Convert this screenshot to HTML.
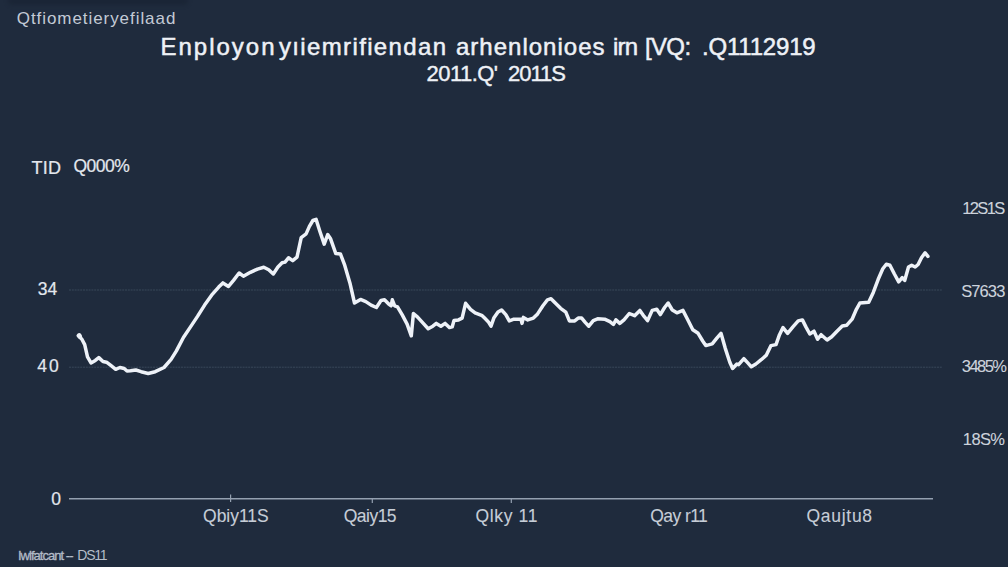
<!DOCTYPE html>
<html><head><meta charset="utf-8">
<style>
html,body{margin:0;padding:0;}
body{width:1008px;height:567px;background:#1f2b3d;overflow:hidden;position:relative;font-family:"Liberation Sans",sans-serif;color:#e8ecf2;}
.t{position:absolute;white-space:pre;line-height:1;}
svg{position:absolute;left:0;top:0;}
</style></head><body>
<svg width="1008" height="567" viewBox="0 0 1008 567">
  <line x1="69" y1="290" x2="942" y2="290" stroke="#445366" stroke-width="0.7" stroke-dasharray="2 0.8"/>
  <line x1="69" y1="367.2" x2="942" y2="367.2" stroke="#445366" stroke-width="0.7" stroke-dasharray="2 0.8"/>
  <line x1="69" y1="498.8" x2="933" y2="498.8" stroke="#94a0b0" stroke-width="1.6"/>
  <g stroke="#94a0b0" stroke-width="1.2">
    <line x1="230.6" y1="494.5" x2="230.6" y2="502"/>
    <line x1="372.3" y1="498" x2="372.3" y2="503"/>
    <line x1="511.3" y1="498" x2="511.3" y2="503"/>
  </g>
  <ellipse cx="79.6" cy="336" rx="2.3" ry="3" fill="#eef2f8" transform="rotate(-25 79.6 336)"/>
  <polyline fill="none" stroke="#eef2f8" stroke-width="3.5" stroke-linejoin="round" stroke-linecap="round" points="78.3,335.8 81.9,339.3 84.7,344.6 87.5,356.9 91.0,362.9 95.3,360.4 98.8,357.6 103.0,361.5 106.5,362.2 111.1,365.7 115.7,369.3 119.9,367.5 124.2,368.5 127.0,371.0 130.5,370.7 135.8,370.0 141.1,371.7 148.2,373.5 155.2,371.7 164.0,367.5 171.1,359.4 176.4,350.9 183.4,337.5 190.5,326.9 197.5,316.4 204.6,305.1 211.6,295.2 218.7,287.1 222.9,282.9 228.5,286.4 233.5,280.4 239.1,273.0 243.4,276.2 250.4,272.3 257.5,269.1 263.8,267.3 268.7,269.8 273.3,274.0 277.9,267.0 282.1,262.8 285.0,262.1 288.5,257.8 292.7,260.6 297.0,257.1 301.2,237.7 306.1,233.9 309.4,226.4 312.9,220.5 316.1,219.4 320.0,231.7 324.2,244.1 327.7,234.6 330.6,238.8 335.8,253.6 340.4,253.9 344.7,265.2 349.9,282.9 354.5,303.0 360.5,299.4 365.8,301.6 371.1,305.1 376.4,307.5 381.0,300.5 384.5,299.8 388.7,304.0 391.2,305.8 392.3,299.8 394.7,305.8 397.5,306.8 402.1,314.6 407.1,324.1 411.3,335.8 413.4,313.5 417.6,317.1 423.3,323.4 428.2,328.7 432.8,326.2 436.3,323.4 440.9,326.2 445.1,323.4 449.4,327.6 452.2,326.9 454.0,320.6 458.5,319.9 462.1,318.1 465.6,303.3 470.5,309.3 475.1,312.8 482.2,315.7 484.6,318.1 488.2,321.7 491.0,326.2 493.8,318.1 498.0,312.1 501.6,310.0 505.8,314.6 509.3,320.9 513.9,319.2 521.0,319.2 522.0,323.4 523.4,317.4 527.8,319.9 533.4,318.1 537.6,313.9 542.9,305.8 547.5,299.8 551.0,298.7 555.3,303.0 560.6,308.3 565.8,312.1 569.4,320.9 574.7,320.9 578.2,318.1 581.7,318.1 585.2,322.4 588.8,326.2 593.3,320.6 597.6,318.8 604.6,319.2 609.9,321.7 613.4,324.5 615.9,319.9 619.8,323.4 624.0,319.9 629.3,313.5 634.6,315.7 639.9,310.4 644.1,316.4 647.6,320.6 652.2,310.4 656.8,309.3 660.3,314.6 664.6,307.5 668.1,303.0 672.3,310.0 676.9,312.8 682.9,310.4 687.5,319.2 692.8,329.8 698.1,333.3 702.7,341.0 705.8,345.6 712.2,343.9 716.8,338.2 721.0,333.3 725.2,348.1 729.8,362.2 732.6,368.5 736.9,364.0 738.6,364.7 743.9,358.7 747.8,362.9 751.3,366.8 755.9,364.0 761.2,359.7 766.4,355.1 771.0,345.6 776.0,344.6 779.5,334.7 783.0,327.6 787.6,333.3 792.9,326.9 798.2,320.9 802.4,319.9 805.9,326.9 809.8,334.0 814.0,331.2 817.6,339.3 821.1,334.7 827.1,340.0 831.7,336.8 837.0,331.2 842.3,325.9 846.8,325.2 852.1,319.2 856.4,309.3 859.9,303.0 868.7,302.3 873.3,292.4 878.2,279.3 882.8,268.8 886.3,264.2 889.9,265.2 894.4,274.0 898.7,281.8 902.2,277.6 904.7,280.4 908.5,267.0 911.7,265.2 915.2,267.0 918.1,264.5 921.6,257.5 925.1,252.9 927.9,256.4"/>
</svg>
<div style="position:absolute;left:8px;top:-3px;width:180px;height:8px;background:#172131;filter:blur(2px);opacity:.6;border-radius:4px"></div>
<div class="t" style="left:16.73px;top:10.41px;font-size:17px;letter-spacing:0.939px;color:#c3cad5;">Qtfiometieryefilaad</div>
<div class="t" style="left:160.42px;top:35.08px;font-size:24px;letter-spacing:2.012px;color:#eef1f6;-webkit-text-stroke:0.5px #eef1f6;">Enployon</div>
<div class="t" style="left:278.92px;top:35.08px;font-size:24px;letter-spacing:1.366px;color:#eef1f6;-webkit-text-stroke:0.5px #eef1f6;">yıiemrifiendan</div>
<div class="t" style="left:455.92px;top:35.08px;font-size:24px;letter-spacing:1.020px;color:#eef1f6;-webkit-text-stroke:0.5px #eef1f6;">arhenlonioes</div>
<div class="t" style="left:612.92px;top:35.08px;font-size:24px;letter-spacing:-0.756px;color:#eef1f6;-webkit-text-stroke:0.5px #eef1f6;">irn</div>
<div class="t" style="left:644.92px;top:35.08px;font-size:24px;letter-spacing:-0.619px;color:#eef1f6;-webkit-text-stroke:0.5px #eef1f6;">[VQ:</div>
<div class="t" style="left:701.92px;top:35.08px;font-size:24px;letter-spacing:-0.182px;color:#eef1f6;-webkit-text-stroke:0.5px #eef1f6;">.Q1112919</div>
<div class="t" style="left:426.51px;top:62.78px;font-size:22px;letter-spacing:-0.542px;color:#eef1f6;-webkit-text-stroke:0.4px #eef1f6;">2011.Q'</div>
<div class="t" style="left:508.01px;top:62.78px;font-size:22px;letter-spacing:-1.001px;color:#eef1f6;-webkit-text-stroke:0.4px #eef1f6;">2011S</div>
<div class="t" style="left:31.39px;top:158.96px;font-size:18px;letter-spacing:0.360px;color:#e3e7ee;-webkit-text-stroke:0.2px #e3e7ee;">TID</div>
<div class="t" style="left:73.41px;top:157.59px;font-size:17.5px;letter-spacing:-0.500px;color:#e3e7ee;-webkit-text-stroke:0.2px #e3e7ee;">Q000%</div>
<div class="t" style="left:37.81px;top:280.99px;font-size:17.5px;letter-spacing:-0.094px;color:#e3e7ee;-webkit-text-stroke:0.2px #e3e7ee;">34</div>
<div class="t" style="left:37.21px;top:358.39px;font-size:17.5px;letter-spacing:2.106px;color:#e3e7ee;-webkit-text-stroke:0.2px #e3e7ee;">40</div>
<div class="t" style="left:51.21px;top:490.89px;font-size:17.5px;letter-spacing:0.000px;color:#e3e7ee;-webkit-text-stroke:0.2px #e3e7ee;">0</div>
<div class="t" style="left:962.16px;top:199.73px;font-size:16.5px;letter-spacing:-1.590px;color:#cdd3dc;-webkit-text-stroke:0.1px #cdd3dc;">12S1S</div>
<div class="t" style="left:961.16px;top:282.53px;font-size:16.5px;letter-spacing:-0.883px;color:#cdd3dc;-webkit-text-stroke:0.1px #cdd3dc;">S7633</div>
<div class="t" style="left:961.76px;top:358.23px;font-size:16.5px;letter-spacing:-1.526px;color:#cdd3dc;-webkit-text-stroke:0.1px #cdd3dc;">3485%</div>
<div class="t" style="left:962.86px;top:431.23px;font-size:16.5px;letter-spacing:-0.649px;color:#cdd3dc;-webkit-text-stroke:0.1px #cdd3dc;">18S%</div>
<div class="t" style="left:203.11px;top:508.19px;font-size:17.5px;letter-spacing:-0.042px;color:#c6cdd7;-webkit-text-stroke:0.1px #c6cdd7;">Qbiy11S</div>
<div class="t" style="left:343.81px;top:507.79px;font-size:17.5px;letter-spacing:-0.536px;color:#c6cdd7;-webkit-text-stroke:0.1px #c6cdd7;">Qaiy15</div>
<div class="t" style="left:475.41px;top:507.59px;font-size:17.5px;letter-spacing:0.657px;color:#c6cdd7;-webkit-text-stroke:0.1px #c6cdd7;">Qlky 11</div>
<div class="t" style="left:650.21px;top:508.39px;font-size:17.5px;letter-spacing:-0.563px;color:#c6cdd7;-webkit-text-stroke:0.1px #c6cdd7;">Qay r11</div>
<div class="t" style="left:806.41px;top:508.39px;font-size:17.5px;letter-spacing:0.730px;color:#c6cdd7;-webkit-text-stroke:0.1px #c6cdd7;">Qaujtu8</div>
<div class="t" style="left:17.91px;top:548.90px;font-size:13px;letter-spacing:-0.960px;color:#b4bcc8;-webkit-text-stroke:0.3px #b4bcc8;">Iwlfatcant --</div>
<div class="t" style="left:77.37px;top:548.05px;font-size:14px;letter-spacing:-1.241px;color:#b4bcc8;">DS11</div>
</body></html>
